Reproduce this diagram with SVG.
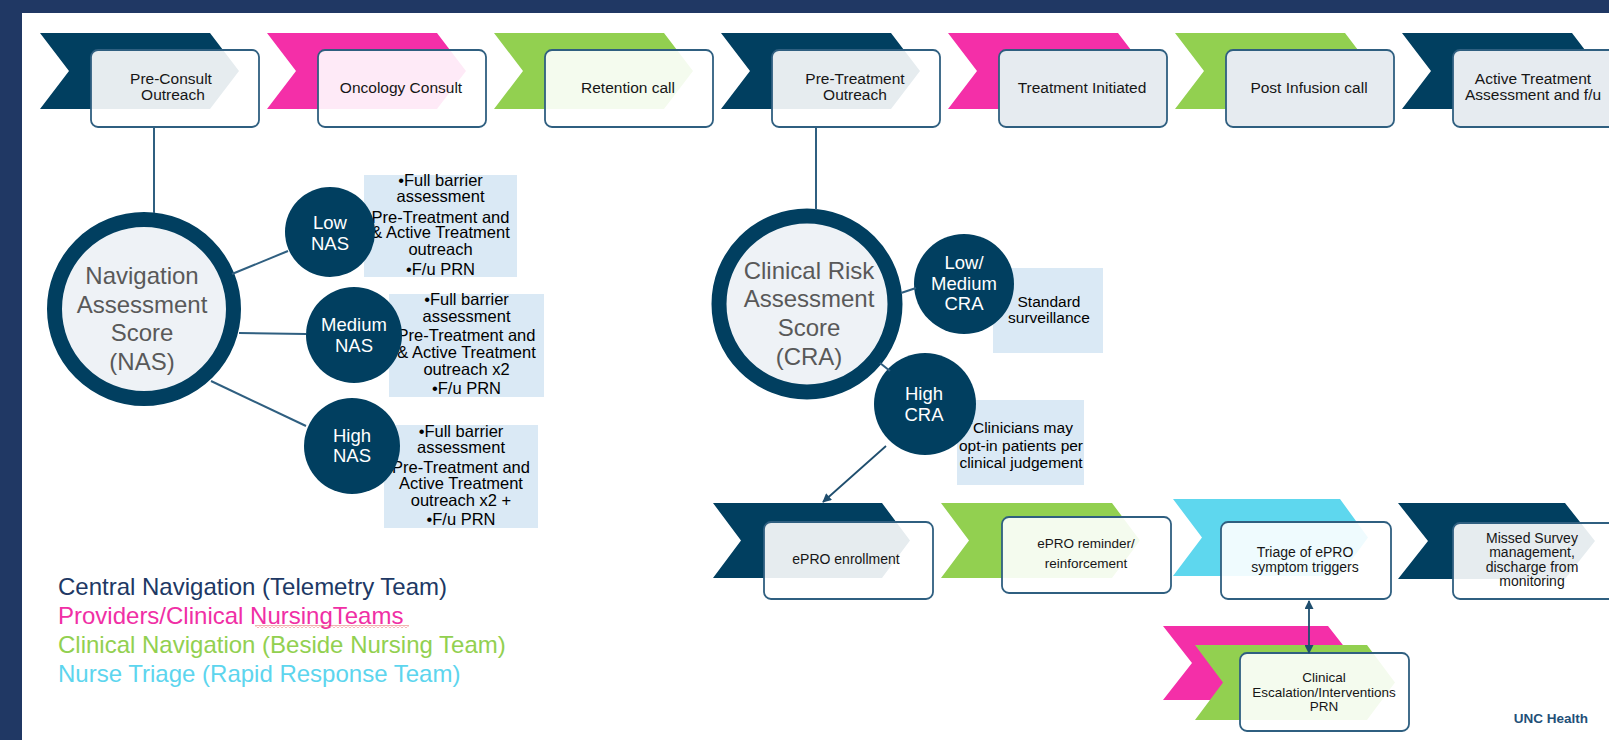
<svg xmlns="http://www.w3.org/2000/svg" width="1609" height="740" viewBox="0 0 1609 740">
<defs>
<style>
.navy{fill:#013F60}
.pink{fill:#F42FA8}
.green{fill:#92D050}
.cyan{fill:#5ED7EE}
.box{fill:#fff;fill-opacity:0.9;stroke:#2F5F80;stroke-width:1.8}
.boxg{fill:#E6EBF0;stroke:#2F5F80;stroke-width:1.8}
.t{font-family:"Liberation Sans",Arial,sans-serif;fill:#161616;text-anchor:middle}
.t1{font-size:15.5px}
.t2{font-size:13.5px}
.t3{font-size:14px}
.tb{font-size:16.5px;fill:#000}
.tn{font-size:15.5px;fill:#000}
.tc{font-size:18.5px;fill:#fff}
.tbig{font-size:24px;fill:#595959}
.note{fill:#DAE9F5}
.ring{fill:#EEF2F6;stroke:#013F60;stroke-width:15}
.dot{fill:#013F60}
.conn{stroke:#2F5F80;stroke-width:2;fill:none}
.arr{stroke:#1F4E6E;stroke-width:1.8;fill:none}
.leg{font-family:"Liberation Sans",Arial,sans-serif;font-size:24px}
</style>
<marker id="ah" viewBox="0 0 10 10" refX="9" refY="5" markerWidth="10" markerHeight="9" markerUnits="userSpaceOnUse" orient="auto-start-reverse"><path d="M0,0 L10,5 L0,10 z" fill="#1F4E6E"/></marker>
<pattern id="sq" width="4" height="3" patternUnits="userSpaceOnUse"><path d="M0,2.5 L2,0.5 L4,2.5" stroke="#E23B3B" stroke-width="0.8" fill="none"/></pattern>
</defs>

<rect x="0" y="0" width="1609" height="740" fill="#fff"/>
<rect x="0" y="0" width="1609" height="13" fill="#203864"/>
<rect x="0" y="0" width="22" height="740" fill="#203864"/>

<!-- Row 1 steps -->
<g id="step-preconsult">
<polygon class="navy" points="40,33 210,33 239,71 210,109 40,109 69,71"/>
<rect class="box" x="91" y="50" width="168" height="77" rx="7"/>
<text class="t t1" x="171" y="84">Pre-Consult</text>
<text class="t t1" x="173" y="100">Outreach</text>
</g>
<g id="step-oncology">
<polygon class="pink" points="267,33 437,33 466,71 437,109 267,109 296,71"/>
<rect class="box" x="318" y="50" width="168" height="77" rx="7"/>
<text class="t t1" x="401" y="93">Oncology Consult</text>
</g>
<g id="step-retention">
<polygon class="green" points="494,33 664,33 693,71 664,109 494,109 523,71"/>
<rect class="box" x="545" y="50" width="168" height="77" rx="7"/>
<text class="t t1" x="628" y="93">Retention call</text>
</g>
<g id="step-pretreatment">
<polygon class="navy" points="721,33 891,33 920,71 891,109 721,109 750,71"/>
<rect class="box" x="772" y="50" width="168" height="77" rx="7"/>
<text class="t t1" x="855" y="84">Pre-Treatment</text>
<text class="t t1" x="855" y="100">Outreach</text>
</g>
<g id="step-treatment">
<polygon class="pink" points="948,33 1118,33 1147,71 1118,109 948,109 977,71"/>
<rect class="boxg" x="999" y="50" width="168" height="77" rx="7"/>
<text class="t t1" x="1082" y="93">Treatment Initiated</text>
</g>
<g id="step-postinfusion">
<polygon class="green" points="1175,33 1345,33 1374,71 1345,109 1175,109 1204,71"/>
<rect class="boxg" x="1226" y="50" width="168" height="77" rx="7"/>
<text class="t t1" x="1309" y="93">Post Infusion call</text>
</g>
<g id="step-active">
<polygon class="navy" points="1402,33 1572,33 1601,71 1572,109 1402,109 1431,71"/>
<rect class="boxg" x="1453" y="50" width="168" height="77" rx="7"/>
<text class="t t1" x="1533" y="84">Active Treatment</text>
<text class="t t1" x="1533" y="100">Assessment and f/u</text>
</g>

<!-- NAS -->
<g id="nas">
<circle class="ring" cx="144" cy="309" r="89.5"/>
<text class="t tbig" x="142" y="284">Navigation</text>
<text class="t tbig" x="142" y="312.5">Assessment</text>
<text class="t tbig" x="142" y="341">Score</text>
<text class="t tbig" x="142" y="369.5">(NAS)</text>
</g>
<g id="nas-low">
<rect class="note" x="364" y="175" width="153" height="102"/>
<text class="t tb" x="440.5" y="186">•Full barrier</text>
<text class="t tb" x="440.5" y="202">assessment</text>
<text class="t tb" x="440.5" y="222.5">Pre-Treatment and</text>
<text class="t tb" x="440.5" y="238">&amp; Active Treatment</text>
<text class="t tb" x="440.5" y="255">outreach</text>
<text class="t tb" x="440.5" y="275">•F/u PRN</text>
<circle class="dot" cx="330" cy="232" r="45"/>
<text class="t tc" x="330" y="229">Low</text>
<text class="t tc" x="330" y="250">NAS</text>
</g>
<g id="nas-medium">
<rect class="note" x="389" y="294" width="155" height="103"/>
<text class="t tb" x="466.5" y="305">•Full barrier</text>
<text class="t tb" x="466.5" y="321.5">assessment</text>
<text class="t tb" x="466.5" y="341">Pre-Treatment and</text>
<text class="t tb" x="466.5" y="357.5">&amp; Active Treatment</text>
<text class="t tb" x="466.5" y="374.5">outreach x2</text>
<text class="t tb" x="466.5" y="394">•F/u PRN</text>
<circle class="dot" cx="354" cy="335" r="48"/>
<text class="t tc" x="354" y="331">Medium</text>
<text class="t tc" x="354" y="352">NAS</text>
</g>
<g id="nas-high">
<rect class="note" x="384" y="425" width="154" height="103"/>
<text class="t tb" x="461" y="437">•Full barrier</text>
<text class="t tb" x="461" y="453">assessment</text>
<text class="t tb" x="461" y="472.5">Pre-Treatment and</text>
<text class="t tb" x="461" y="488.5">Active Treatment</text>
<text class="t tb" x="461" y="506">outreach x2 +</text>
<text class="t tb" x="461" y="525">•F/u PRN</text>
<circle class="dot" cx="352" cy="446" r="48"/>
<text class="t tc" x="352" y="442">High</text>
<text class="t tc" x="352" y="462">NAS</text>
</g>

<!-- CRA -->
<g id="cra">
<circle class="ring" cx="807" cy="304" r="88"/>
<text class="t tbig" x="809" y="278.5">Clinical Risk</text>
<text class="t tbig" x="809" y="307">Assessment</text>
<text class="t tbig" x="809" y="336">Score</text>
<text class="t tbig" x="809" y="365">(CRA)</text>
</g>
<g id="cra-lowmed">
<rect class="note" x="993" y="268" width="110" height="85"/>
<text class="t tn" x="1049" y="307">Standard</text>
<text class="t tn" x="1049" y="323">surveillance</text>
<circle class="dot" cx="964" cy="284" r="50"/>
<text class="t tc" x="964" y="269">Low/</text>
<text class="t tc" x="964" y="290">Medium</text>
<text class="t tc" x="964" y="310">CRA</text>
</g>
<g id="cra-high">
<rect class="note" x="957" y="400" width="127" height="85"/>
<text class="t tn" x="1021" y="433"><tspan font-size="10" dy="-5">*</tspan><tspan dy="5">Clinicians may</tspan></text>
<text class="t tn" x="1021" y="451">opt-in patients per</text>
<text class="t tn" x="1021" y="468">clinical judgement</text>
<circle class="dot" cx="925" cy="404" r="51"/>
<text class="t tc" x="924" y="400">High</text>
<text class="t tc" x="924" y="421">CRA</text>
</g>

<!-- Row 2 -->
<g id="step-epro-enroll">
<polygon class="navy" points="713,503 882,503 910,540.5 882,578 713,578 741,540.5"/>
<rect class="box" x="764" y="522" width="169" height="77" rx="7"/>
<text class="t t3" x="846" y="564">ePRO enrollment</text>
</g>
<g id="step-epro-reminder">
<polygon class="green" points="941,503 1112,503 1140,540.5 1112,578 941,578 969,540.5"/>
<rect class="box" x="1002" y="517" width="169" height="76" rx="7"/>
<text class="t t2" x="1086" y="548">ePRO reminder/</text>
<text class="t t2" x="1086" y="568">reinforcement</text>
</g>
<g id="step-triage">
<polygon class="cyan" points="1173,499 1340,499 1368,537.5 1340,576 1173,576 1202,537.5"/>
<rect class="box" x="1221" y="522" width="170" height="77" rx="7"/>
<text class="t t3" x="1305" y="557">Triage of ePRO</text>
<text class="t t3" x="1305" y="572">symptom triggers</text>
</g>
<g id="step-missed">
<polygon class="navy" points="1398,503 1565,503 1595,541 1565,579 1398,579 1428,541"/>
<rect class="box" x="1453" y="523" width="169" height="76" rx="7"/>
<text class="t t3" x="1532" y="543">Missed Survey</text>
<text class="t t3" x="1532" y="557">management,</text>
<text class="t t3" x="1532" y="571.5">discharge from</text>
<text class="t t3" x="1532" y="586">monitoring</text>
</g>
<g id="step-escalation">
<polygon class="pink" points="1163,626 1328,626 1357,663 1328,700 1163,700 1192,663"/>
<polygon class="green" points="1195,645 1367,645 1395,682.5 1367,720 1195,720 1223,682.5"/>
<rect class="box" x="1240" y="653" width="169" height="78" rx="7"/>
<text class="t t2" x="1324" y="682">Clinical</text>
<text class="t t2" x="1324" y="697">Escalation/Interventions</text>
<text class="t t2" x="1324" y="711">PRN</text>
</g>

<!-- Connectors -->
<g id="connectors">
<line class="conn" x1="154" y1="127" x2="154" y2="213"/>
<line class="conn" x1="816" y1="127" x2="816" y2="210"/>
<line class="conn" x1="232" y1="274" x2="288" y2="251"/>
<line class="conn" x1="239" y1="333" x2="306" y2="334"/>
<line class="conn" x1="211" y1="381" x2="306" y2="426"/>
<line class="conn" x1="901" y1="293" x2="916" y2="288"/>
<line class="conn" x1="880" y1="363" x2="890" y2="371"/>
<line class="arr" x1="886" y1="446" x2="823" y2="502" marker-end="url(#ah)"/>
<line class="arr" x1="1309" y1="601" x2="1309" y2="653" marker-start="url(#ah)" marker-end="url(#ah)"/>
</g>

<!-- Legend -->
<g id="legend">
<text class="leg" x="58" y="594.5" fill="#203864">Central Navigation (Telemetry Team)</text>
<text class="leg" x="58" y="623.5" fill="#F02FA5">Providers/Clinical NursingTeams</text>
<rect x="255" y="625" width="154" height="3" fill="url(#sq)"/>
<text class="leg" x="58" y="652.5" fill="#92D050">Clinical Navigation (Beside Nursing Team)</text>
<text class="leg" x="58" y="681.5" fill="#5DD5EE">Nurse Triage (Rapid Response Team)</text>
</g>

<text id="brand" x="1551" y="723" font-family="Liberation Sans, Arial, sans-serif" font-size="13.5px" font-weight="bold" fill="#1F5078" text-anchor="middle">UNC Health</text>
</svg>
